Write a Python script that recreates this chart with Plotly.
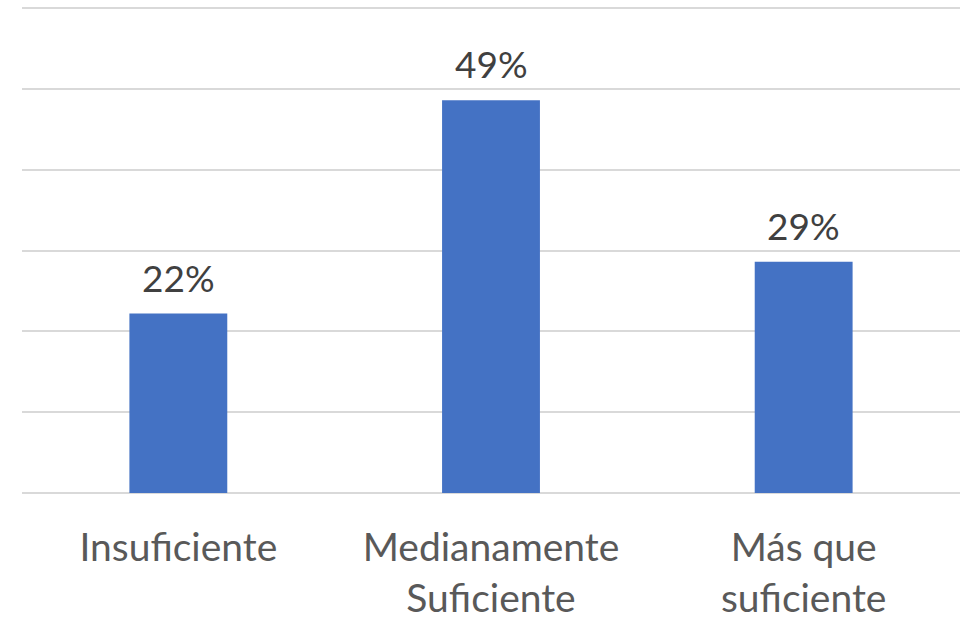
import plotly.graph_objs as go

# Categories and shares
categories = ["Insuficiente", "Medianamente<br>Suficiente", "Más que<br>suficiente"]
shares = [0.222, 0.486, 0.286]
labels = ["22%", "49%", "29%"]

FONT = "Lato, Carlito, Calibri, sans-serif"

fig = go.Figure(go.Bar(
    x=categories,
    y=shares,
    marker={"color": "#4472C4", "line": {"width": 0}},
    hoverinfo="skip",
))

# Data labels placed above each bar
for cat, val, lab in zip(categories, shares, labels):
    fig.add_annotation(
        x=cat, y=val, text=lab,
        showarrow=False, yanchor="bottom", yshift=12,
        font={"family": FONT, "size": 37, "color": "#404040"},
    )

fig.update_layout(
    width=960,
    height=617,
    margin={"l": 22, "r": 0, "t": 4, "b": 124},
    paper_bgcolor="white",
    plot_bgcolor="white",
    bargap=0.687,
    showlegend=False,
    xaxis={
        "tickfont": {"family": FONT, "size": 39, "color": "#595959"},
        "showline": False,
        "ticks": "",
        "showgrid": False,
        "automargin": False,
        "ticklabelstandoff": 28,
    },
    yaxis={
        "range": [0, 0.605],
        "dtick": 0.1,
        "showticklabels": False,
        "showgrid": True,
        "gridcolor": "#d9d9d9",
        "gridwidth": 2,
        "zeroline": True,
        "zerolinecolor": "#d9d9d9",
        "zerolinewidth": 2,
        "ticks": "",
        "automargin": False,
    },
)

# drop the default page margin so the figure sits flush in the window
fig.write_html(
    "out.html",
    config={"displayModeBar": False},
    post_script="document.body.style.margin='0';document.body.style.overflow='hidden';",
)
